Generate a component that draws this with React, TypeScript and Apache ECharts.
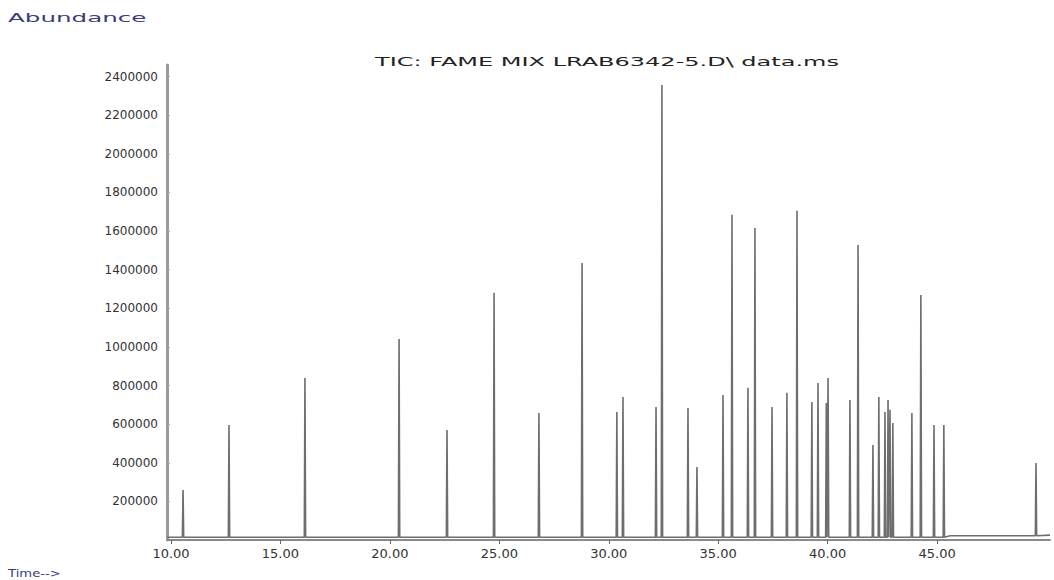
import React, { useEffect, useRef } from "react";
import * as echarts from "echarts";

// Retention times (min) and peak abundances of the TIC trace
const peakTimes = [
  10.55, 12.65, 16.12, 20.42, 22.61, 24.76, 26.81, 28.78, 30.37, 30.65,
  32.16, 32.43, 33.62, 34.03, 35.22, 35.63, 36.36, 36.68, 37.46, 38.14,
  38.6, 39.28, 39.56, 39.94, 40.02, 41.02, 41.39, 42.07, 42.34, 42.62,
  42.76, 42.85, 42.98, 43.85, 44.26, 44.86, 45.31, 49.52,
];
const peakHeights = [
  259000, 596000, 839000, 1041000, 570000, 1280000, 658000, 1435000, 663000, 741000,
  689000, 2357000, 684000, 378000, 751000, 1684000, 788000, 1616000, 689000, 762000,
  1705000, 715000, 813000, 710000, 839000, 725000, 1528000, 492000, 741000, 663000,
  725000, 674000, 606000, 658000, 1269000, 596000, 596000, 399000,
];
// Baseline level of the detector signal, as [time, abundance] steps
const baselineSteps: [number, number][] = [
  [9.82, 14000],
  [45.6, 22000],
  [50.16, 25000],
];
const yTickValues = [200000, 400000, 600000, 800000, 1000000, 1200000, 1400000, 1600000, 1800000, 2000000, 2200000, 2400000];
const xTickValues = [10, 15, 20, 25, 30, 35, 40, 45];

const TITLE = "TIC: FAME MIX LRAB6342-5.D\\ data.ms";
const PEAK_HALF_WIDTH = 0.03;

function baseAt(t: number): number {
  let level = baselineSteps[0][1];
  for (const [bt, bv] of baselineSteps) if (bt <= t) level = bv;
  return level;
}

function buildTrace(): [number, number][] {
  const pts: [number, number][] = [];
  for (const [bt, bv] of baselineSteps) pts.push([bt, bv]);
  peakTimes.forEach((t, i) => {
    const b = baseAt(t);
    pts.push([t - PEAK_HALF_WIDTH, b]);
    pts.push([t, peakHeights[i]]);
    pts.push([t + PEAK_HALF_WIDTH, b]);
  });
  pts.sort((a, b) => a[0] - b[0]);
  return pts;
}

export default function App() {
  const ref = useRef<HTMLDivElement>(null);
  useEffect(() => {
    if (!ref.current) return;
    const chart = echarts.init(ref.current, null, { renderer: "svg" });
    const font = "DejaVu Sans";
    chart.setOption({
      animation: false,
      backgroundColor: "#ffffff",
      grid: { left: 167, right: 4, top: 65, bottom: 40, containLabel: false },
      xAxis: {
        type: "value",
        min: 9.817,
        max: 50.16,
        splitLine: { show: false },
        axisLine: { show: true, lineStyle: { color: "#8a8a8a", width: 2 } },
        axisTick: { show: true, length: 4, customValues: xTickValues, lineStyle: { color: "#666" } },
        axisLabel: {
          customValues: xTickValues,
          formatter: (v: number) => v.toFixed(2),
          fontFamily: font,
          fontSize: 13,
          color: "#333",
          margin: 7,
        },
      },
      yAxis: {
        type: "value",
        min: 0,
        max: 2460000,
        splitLine: { show: false },
        axisLine: { show: true, lineStyle: { color: "#9a9a9a", width: 3 } },
        axisTick: { show: true, inside: true, length: 3, customValues: yTickValues, lineStyle: { color: "#aaa" } },
        axisLabel: {
          customValues: yTickValues,
          formatter: (v: number) => String(v),
          fontFamily: font,
          fontSize: 12,
          color: "#333",
          margin: 9,
        },
      },
      series: [
        {
          type: "line",
          data: buildTrace(),
          showSymbol: false,
          symbol: "none",
          lineStyle: { color: "#6e6e6e", width: 1.6 },
          z: 3,
        },
      ],
      graphic: [
        {
          type: "text",
          x: 8,
          y: 18,
          scaleX: 2.05,
          style: {
            text: "Abundance",
            fontFamily: font,
            fontSize: 12,
            fill: "#3c3c78",
            textAlign: "left",
            textVerticalAlign: "middle",
          },
        },
        {
          type: "text",
          x: 607,
          y: 62,
          scaleX: 2.0,
          style: {
            text: TITLE,
            fontFamily: font,
            fontSize: 12,
            fill: "#222",
            textAlign: "center",
            textVerticalAlign: "middle",
          },
        },
        {
          type: "text",
          x: 8,
          y: 573,
          scaleX: 1.2,
          style: {
            text: "Time-->",
            fontFamily: font,
            fontSize: 11,
            fill: "#3c3c78",
            textAlign: "left",
            textVerticalAlign: "middle",
          },
        },
      ],
    });
    return () => chart.dispose();
  }, []);
  return (
    <div
      ref={ref}
      style={{ position: "fixed", left: 0, top: 0, width: 1054, height: 580, background: "#fff" }}
    />
  );
}
